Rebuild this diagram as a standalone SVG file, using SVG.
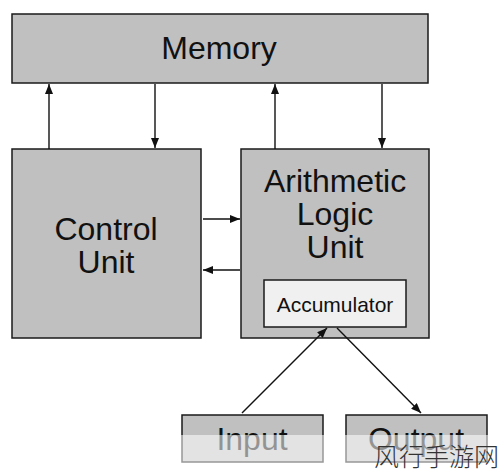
<svg xmlns="http://www.w3.org/2000/svg" width="500" height="476" viewBox="0 0 500 476">
<style>
.box{fill:#c0c0c0;stroke:#1a1a1a;stroke-width:1.5}
.acc{fill:#f0f0f0;stroke:#1a1a1a;stroke-width:1.5}
.t{font-family:"Liberation Sans",Arial,sans-serif;fill:#111;text-anchor:middle}
.big{font-size:32px}
.small{font-size:21px}
.c{stroke:#111;stroke-width:1.4;fill:none;marker-end:url(#ah)}
.wm{font-family:"Noto Sans CJK SC",sans-serif;font-size:25px;font-weight:300;fill:#333}
</style>
<defs>
<marker id="ah" viewBox="0 0 10 8" refX="10" refY="4" markerWidth="10" markerHeight="8" markerUnits="userSpaceOnUse" orient="auto">
<path d="M0,0 L10,4 L0,8 Z" fill="#111"/>
</marker>
</defs>
<rect width="500" height="476" fill="#fff"/>
<g id="memory">
<rect class="box" x="12" y="14" width="416" height="69"/>
<text class="t big" x="219" y="59">Memory</text>
</g>
<g id="control-unit">
<rect class="box" x="12" y="149" width="189" height="189"/>
<text class="t big" x="106" y="240">Control</text>
<text class="t big" x="106" y="273">Unit</text>
</g>
<g id="alu">
<rect class="box" x="241" y="149" width="188" height="189"/>
<text class="t big" x="335" y="192">Arithmetic</text>
<text class="t big" x="335" y="225">Logic</text>
<text class="t big" x="335" y="258">Unit</text>
</g>
<g id="accumulator">
<rect class="acc" x="264" y="280" width="142" height="47"/>
<text class="t small" x="335" y="312">Accumulator</text>
</g>
<g id="input">
<rect class="box" x="182" y="415" width="141" height="47"/>
<text class="t big" x="252" y="450">Input</text>
</g>
<g id="output">
<rect class="box" x="346" y="415" width="141" height="47"/>
<text class="t big" x="416" y="450">Output</text>
</g>
<g id="connectors">
<line class="c" x1="49" y1="149" x2="49" y2="84"/>
<line class="c" x1="155" y1="84" x2="155" y2="148"/>
<line class="c" x1="275" y1="149" x2="275" y2="84"/>
<line class="c" x1="382" y1="84" x2="382" y2="148"/>
<line class="c" x1="203" y1="219" x2="240" y2="219"/>
<line class="c" x1="240" y1="270" x2="203" y2="270"/>
<line class="c" x1="242" y1="413" x2="327" y2="328"/>
<line class="c" x1="337" y1="328" x2="421" y2="413"/>
</g>
<rect x="0" y="435" width="500" height="41" fill="#fff" fill-opacity="0.55"/>
<text class="wm" x="374" y="466">风行手游网</text>
</svg>
